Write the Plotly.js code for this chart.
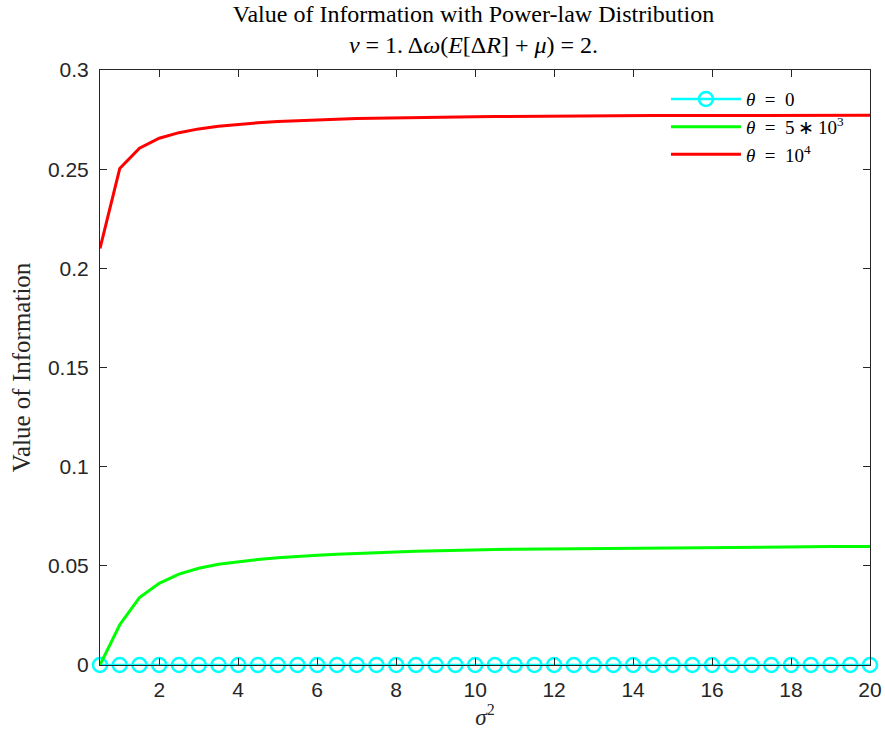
<!DOCTYPE html>
<html>
<head>
<meta charset="utf-8">
<script src="https://cdn.plot.ly/plotly-3.0.1.min.js"></script>
<style>body{margin:0;padding:0;background:#fff;} #chart{width:885px;height:732px;}</style>
</head>
<body>
<div id="chart"></div>
<script>
const sigma2 = [0.5,1,1.5,2,2.5,3,3.5,4,4.5,5,5.5,6,6.5,7,7.5,8,8.5,9,9.5,10,10.5,11,11.5,12,12.5,13,13.5,14,14.5,15,15.5,16,16.5,17,17.5,18,18.5,19,19.5,20];
const voiTheta0 = sigma2.map(() => 0);
const voiTheta5e3 = [0,0.0203,0.0340,0.0412,0.0458,0.0488,0.0508,0.0521,0.0532,0.0541,0.0548,0.0553,0.0558,0.0563,0.0567,0.0570,0.0573,0.0576,0.0578,0.0580,0.0582,0.0584,0.0585,0.0587,0.0588,0.0589,0.0590,0.0591,0.0592,0.0593,0.0593,0.0594,0.0595,0.0595,0.0596,0.0596,0.0597,0.0597,0.0597,0.0598];
const voiTheta1e4 = [0.2100,0.2503,0.2606,0.2656,0.2684,0.2703,0.2716,0.2726,0.2734,0.2740,0.2745,0.2749,0.2752,0.2755,0.2757,0.2759,0.2761,0.2762,0.2763,0.2764,0.2765,0.2766,0.2767,0.2767,0.2768,0.2768,0.2769,0.2769,0.2770,0.2770,0.2770,0.2771,0.2771,0.2771,0.2771,0.2772,0.2772,0.2772,0.2772,0.2772];
const legendNames = ['<i>θ</i>\u2002=\u20020','<i>θ</i>\u2002=\u20025\u2009∗\u200910<sup>3</sup>','<i>θ</i>\u2002=\u200210<sup>4</sup>'];
const xTicks = [2,4,6,8,10,12,14,16,18,20];
const yTicks = [0,0.05,0.1,0.15,0.2,0.25,0.3];

const traces = [
  {x: sigma2, y: voiTheta0, name: legendNames[0], mode: 'lines+markers', cliponaxis: false,
   line: {color: '#00ffff', width: 2.5},
   marker: {symbol: 'circle-open', size: 14, color: '#00ffff', line: {width: 2.5, color: '#00ffff'}}},
  {x: sigma2, y: voiTheta5e3, name: legendNames[1], mode: 'lines',
   line: {color: '#00ff00', width: 3}},
  {x: sigma2, y: voiTheta1e4, name: legendNames[2], mode: 'lines',
   line: {color: '#ff0000', width: 3}}
];

const axisCommon = {
  showgrid: false, zeroline: false, showline: true, linecolor: '#262626', linewidth: 1,
  mirror: 'ticks', ticks: 'inside', ticklen: 7, tickcolor: '#262626', tickwidth: 1,
  tickfont: {family: 'Liberation Sans, Arial, sans-serif', size: 21, color: '#262626'}
};

const layout = {
  width: 885, height: 732,
  margin: {l: 100, r: 15, t: 70, b: 67},
  paper_bgcolor: '#fff', plot_bgcolor: '#fff',
  title: {
    text: 'Value of Information with Power-law Distribution<br><i>ν</i> = 1. Δ<i>ω</i>(<i>E</i>[Δ<i>R</i>] + <i>μ</i>) = 2.',
    font: {family: 'Liberation Serif, Times New Roman, serif', size: 24, color: '#000'},
    x: 0.535, xanchor: 'center', yref: 'container', y: 0.970, yanchor: 'top'
  },
  xaxis: Object.assign({}, axisCommon, {
    range: [0.5, 20], tickvals: xTicks, ticktext: xTicks.map(String), ticklabelstandoff: 6,
    title: {text: '<i>σ</i><sup>2</sup>', font: {family: 'Liberation Serif, serif', size: 23, color: '#262626'}, standoff: 5}
  }),
  yaxis: Object.assign({}, axisCommon, {
    range: [0, 0.3], tickvals: yTicks, ticktext: yTicks.map(String), ticklabelstandoff: 6,
    title: {text: 'Value of Information', font: {family: 'Liberation Serif, serif', size: 25, color: '#262626'}, standoff: 10}
  }),
  showlegend: true,
  legend: {
    x: 0.735, y: 0.983, xanchor: 'left', yanchor: 'top',
    bgcolor: 'rgba(0,0,0,0)', borderwidth: 0,
    font: {family: 'Liberation Serif, serif', size: 19, color: '#000'},
    itemwidth: 70, tracegroupgap: 0
  }
};

Plotly.newPlot('chart', traces, layout, {displayModeBar: false, staticPlot: true});
</script>
</body>
</html>
